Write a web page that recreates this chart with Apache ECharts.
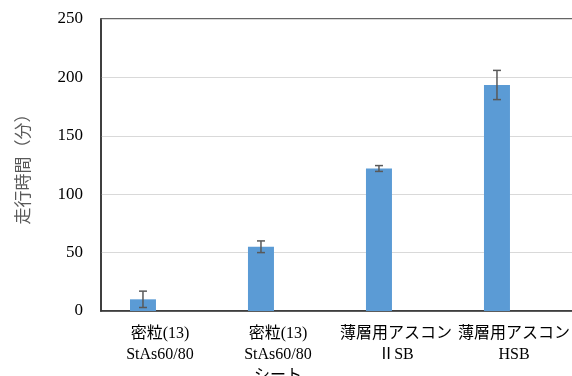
<!DOCTYPE html>
<html>
<head>
<meta charset="utf-8">
<script src="https://cdn.jsdelivr.net/npm/echarts@6/dist/echarts.min.js"></script>
<style>
  html, body { margin: 0; padding: 0; background: #fff; }
  #chart { width: 572px; height: 376px; }
</style>
</head>
<body>
<div id="chart"></div>
<script>
// data
const categories = [
  "密粒(13)\nStAs60/80",
  "密粒(13)\nStAs60/80\nシート",
  "薄層用アスコン\nⅡSB",
  "薄層用アスコン\nHSB"
];
const meanMinutes = [10, 55, 122, 193.5];
const errMinutes = [7, 5, 2.5, 12.5];
const yTicks = { min: 0, max: 250, interval: 50 };

const BAR_W = 26;
const BAR_GAP = 0.31; // second (empty) series pushes the bar left, like Excel
const barOffset = -(BAR_W + BAR_W * BAR_GAP) / 2;

const serif = "'Liberation Serif', 'Times New Roman', 'Noto Sans CJK JP', serif";

const chart = echarts.init(document.getElementById("chart"));

const option = {
  animation: false,
  grid: {
    left: 101, right: -1, top: 19, bottom: 65,
    show: true, borderColor: "#333", borderWidth: 1.5,
    containLabel: false,
    outerBoundsMode: "none"
  },
  xAxis: {
    type: "category",
    data: categories,
    axisLine: { lineStyle: { color: "#333", width: 1.5 } },
    axisTick: { show: false },
    axisLabel: {
      interval: 0, margin: 12, lineHeight: 21,
      fontFamily: serif, fontSize: 16, color: "#000"
    }
  },
  yAxis: {
    type: "value",
    min: yTicks.min, max: yTicks.max, interval: yTicks.interval,
    name: "走行時間（分）",
    nameLocation: "middle",
    nameGap: 70,
    nameTextStyle: { fontFamily: "'Noto Sans CJK JP', sans-serif", fontSize: 17, color: "#595959" },
    axisLine: { show: true, lineStyle: { color: "#333", width: 1.5 } },
    axisTick: { show: false },
    axisLabel: { margin: 18, fontFamily: serif, fontSize: 17, color: "#000" },
    splitLine: { lineStyle: { color: "#d9d9d9", width: 1.2 } }
  },
  series: [
    {
      type: "bar",
      data: meanMinutes,
      barWidth: BAR_W,
      barGap: (BAR_GAP * 100) + "%",
      itemStyle: { color: "#5b9bd5" }
    },
    {
      type: "bar",
      data: [],
      barWidth: BAR_W
    },
    {
      type: "custom",
      data: meanMinutes.map((m, i) => [i, m - errMinutes[i], m + errMinutes[i]]),
      z: 10,
      renderItem: function (params, api) {
        const lo = api.coord([api.value(0), api.value(1)]);
        const hi = api.coord([api.value(0), api.value(2)]);
        const x = lo[0] + barOffset;
        const cap = 4;
        const style = { stroke: "#595959", lineWidth: 1.5 };
        return {
          type: "group",
          children: [
            { type: "line", shape: { x1: x, y1: lo[1], x2: x, y2: hi[1] }, style },
            { type: "line", shape: { x1: x - cap, y1: lo[1], x2: x + cap, y2: lo[1] }, style },
            { type: "line", shape: { x1: x - cap, y1: hi[1], x2: x + cap, y2: hi[1] }, style }
          ]
        };
      }
    }
  ]
};

chart.setOption(option);
</script>
</body>
</html>
